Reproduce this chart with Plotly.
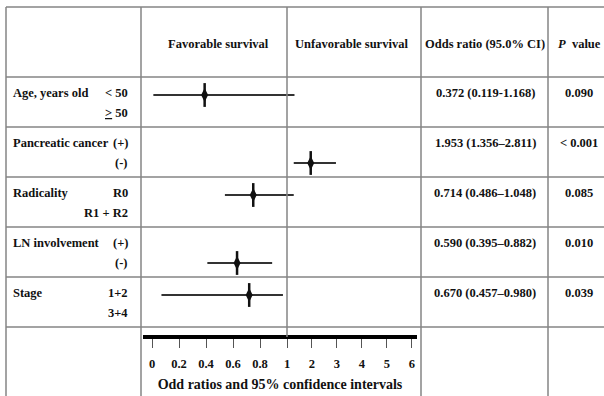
import plotly.graph_objects as go

# ---------------- data ----------------
row_labels = ["Age, years old", "Pancreatic cancer", "Radicality", "LN involvement", "Stage"]
sub_upper = ["&lt; 50", "(+)", "R0", "(+)", "1+2"]
sub_lower = ["<u>&gt;</u> 50", "(-)", "R1 + R2", "(-)", "3+4"]
or_text = ["0.372 (0.119-1.168)", "1.953 (1.356\u20132.811)", "0.714 (0.486\u20131.048)",
           "0.590 (0.395\u20130.882)", "0.670 (0.457\u20130.980)"]
p_text = ["0.090", "&lt; 0.001", "0.085", "0.010", "0.039"]
# plotted estimates
or_point = [0.39, 1.95, 0.75, 0.63, 0.72]
or_low = [0.01, 1.27, 0.54, 0.41, 0.07]
or_high = [1.30, 2.96, 1.27, 0.89, 0.97]
mark_level = [0, 1, 0, 1, 0]  # 0 = upper sub-line, 1 = lower sub-line
headers = ["Favorable survival", "Unfavorable survival", "Odds ratio (95.0% CI)", "<i>P</i>  value"]
tick_vals = [0, 0.2, 0.4, 0.6, 0.8, 1, 2, 3, 4, 5, 6]
tick_text = ["0", "0.2", "0.4", "0.6", "0.8", "1", "2", "3", "4", "5", "6"]
axis_title = "Odd ratios and 95% confidence intervals"

# ---------------- layout helpers ----------------
W, H = 604, 396
HIGH_SCALE = 0.185           # compression of the >1 part of the OR axis
ROW_PX = 50.0                # pixel height of a data row
ROW0 = 77                    # pixel y of the first data row top


def disp(v):
    return v if v <= 1 else 1 + (v - 1) * HIGH_SCALE


def px(x):
    return x / W


n = len(row_labels)
y_pt = [i + (0.36 if lv == 0 else 0.72) for i, lv in enumerate(mark_level)]
x_pt = [disp(v) for v in or_point]
err_plus = [disp(h) - disp(p) for h, p in zip(or_high, or_point)]
err_minus = [disp(p) - disp(l) for l, p in zip(or_low, or_point)]

fig = go.Figure()
fig.add_trace(go.Scatter(
    x=x_pt, y=y_pt, mode="markers",
    marker=dict(symbol="diamond-tall", size=10, color="#111111"),
    error_x=dict(type="data", symmetric=False, array=err_plus, arrayminus=err_minus,
                 thickness=2, width=0, color="#333333"),
    showlegend=False, hoverinfo="skip", cliponaxis=False,
))
fig.add_trace(go.Scatter(
    x=x_pt, y=y_pt, mode="markers",
    marker=dict(symbol="line-ns", size=17, line=dict(width=2.5, color="#111111")),
    showlegend=False, hoverinfo="skip", cliponaxis=False,
))

GRID = "#858585"
shapes = []
y_top = (7 - ROW0) / ROW_PX
for yv in [y_top, 0, 1, 2, 3, 4, 5]:
    shapes.append(dict(type="line", xref="paper", yref="y", x0=px(6), x1=1.02, y0=yv, y1=yv,
                       line=dict(color=GRID, width=1.5)))
for xv in [6, 141, 421, 548]:
    shapes.append(dict(type="line", xref="paper", yref="y", x0=px(xv), x1=px(xv), y0=y_top, y1=6.6,
                       line=dict(color=GRID, width=1.5)))
shapes.append(dict(type="line", xref="x", yref="y", x0=disp(1), x1=disp(1), y0=y_top, y1=5.2,
                   line=dict(color=GRID, width=1.5)))

ann = []
FS = 12.5
hdr_x = [218, 351, 485, 579]
hdr_y = (44 - ROW0) / ROW_PX
for t, xv in zip(headers, hdr_x):
    ann.append(dict(text=t, x=px(xv), y=hdr_y, xref="paper", yref="y", showarrow=False,
                    xanchor="center", yanchor="middle", font=dict(size=FS)))
for i in range(n):
    ann.append(dict(text=row_labels[i], x=px(11), y=i + 0.31, xref="paper", yref="y",
                    showarrow=False, xanchor="left", yanchor="middle", font=dict(size=FS)))
    ann.append(dict(text=sub_upper[i], x=px(130), y=i + 0.31, xref="paper", yref="y",
                    showarrow=False, xanchor="right", yanchor="middle", font=dict(size=FS)))
    ann.append(dict(text=sub_lower[i], x=px(130), y=i + 0.72, xref="paper", yref="y",
                    showarrow=False, xanchor="right", yanchor="middle", font=dict(size=FS)))
    ann.append(dict(text=or_text[i], x=px(485), y=i + 0.31, xref="paper", yref="y",
                    showarrow=False, xanchor="center", yanchor="middle", font=dict(size=FS)))
    ann.append(dict(text=p_text[i], x=px(579), y=i + 0.31, xref="paper", yref="y",
                    showarrow=False, xanchor="center", yanchor="middle", font=dict(size=FS)))

# y range so that row i spans [i, i+1] with ROW_PX pixels
y_min = -ROW0 / ROW_PX
y_max = (H - ROW0) / ROW_PX

fig.update_layout(
    width=W, height=H, margin=dict(l=0, r=0, t=0, b=0),
    paper_bgcolor="white", plot_bgcolor="rgba(0,0,0,0)",
    font=dict(family="Liberation Serif", size=FS, color="#111111", weight="bold"),
    shapes=shapes, annotations=ann,
    xaxis=dict(domain=[px(143), px(417)], range=[-0.0667, 1.963],
               tickvals=[disp(v) for v in tick_vals], ticktext=tick_text,
               showline=True, linewidth=3.5, linecolor="#000000",
               ticks="outside", ticklen=9, tickwidth=1, tickcolor="#555555",
               ticklabelstandoff=5, showgrid=False, zeroline=False,
               anchor="free", position=1 - 337 / H,
               tickfont=dict(size=12.5),
               title=dict(text=axis_title, font=dict(size=14), standoff=8)),
    yaxis=dict(domain=[0, 1], range=[y_max, y_min], visible=False, showgrid=False, zeroline=False),
)

fig.write_html("out.html", config={"displayModeBar": False},
               post_script="document.body.style.margin='0';document.body.style.overflow='hidden';")
